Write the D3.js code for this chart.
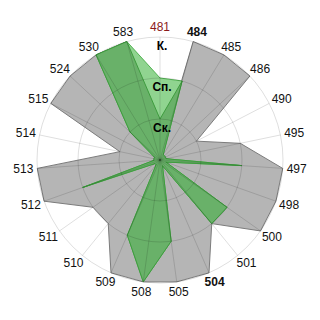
<!DOCTYPE html>
<html>
<head>
<meta charset="utf-8">
<script src="https://cdn.jsdelivr.net/npm/d3@7"></script>
<style>
  body { margin: 0; background: #fff; }
  text { font-family: "Liberation Sans", Arial, sans-serif; }
</style>
</head>
<body>
<div id="chart"></div>
<script>
// Categories clockwise from the top
const categories = ["481", "484", "485", "486", "490", "495", "497", "498", "500", "501", "504",
                    "505", "508", "509", "510", "511", "512", "513", "514", "515", "524", "530", "583"];

// Radial levels (1 = Ск., 2 = Сп., 3 = К.)
const levelValues = [1, 2, 3];
const levelLabels = ["Ск.", "Сп.", "К."];

// Series values
const grayValues  = [0.15, 3, 3, 3, 1, 2, 3, 3, 3, 2, 3, 3, 3, 3, 2, 2, 3, 3, 1, 3, 3, 3, 3];
const lightValues = [2, 2, 0.15, 0.15, 0.15, 0.15, 2, 0.15, 2, 2, 0.15, 2, 3, 2, 0.15, 0.15, 2, 0.15, 0.15, 0.15, 1, 3, 3];
const darkValues  = [1, 2, 0.15, 0.15, 0.15, 0.15, 2, 0.15, 2, 2, 0.15, 2, 3, 2, 0.15, 0.15, 2, 0.15, 0.15, 0.15, 1, 3, 3];

const boldLabels = ["484", "504"];
const redLabels = ["481"];

let width = 320, height = 320;
let cx = 160, cy = 160, R = 123;

let svg = d3.select("#chart")
    .append("svg")
    .attr("width", width)
    .attr("height", height)
    .append("g")
    .attr("transform", `translate(${cx},${cy})`);

// Scales
let angle = d3.scaleBand()
    .domain(categories)
    .range([0, 2 * Math.PI])
    .paddingInner(0)
    .paddingOuter(0);

let radius = d3.scaleLinear()
    .domain([0, 3])
    .range([0, R]);

let radar = d3.lineRadial()
    .angle((d, i) => angle(categories[i]))
    .radius(d => radius(d))
    .curve(d3.curveLinearClosed);

// Series polygons
svg.append("path")
    .datum(grayValues)
    .attr("d", radar)
    .attr("fill", "#b5b5b5")
    .attr("stroke", "#7c7c7c")
    .attr("stroke-width", 1);

svg.append("path")
    .datum(lightValues)
    .attr("d", radar)
    .attr("fill", "#90d490")
    .attr("stroke", "#52b352")
    .attr("stroke-width", 1);

svg.append("path")
    .datum(darkValues)
    .attr("d", radar)
    .attr("fill", "#69b169")
    .attr("stroke", "#3f9c3f")
    .attr("stroke-width", 1);

// Grid on top, semi transparent
svg.selectAll(".ring")
    .data(levelValues)
    .enter().append("circle")
    .attr("class", "ring")
    .attr("r", d => radius(d))
    .attr("fill", "none")
    .attr("stroke", "rgba(0,0,0,0.13)");

svg.selectAll(".spoke")
    .data(categories)
    .enter().append("line")
    .attr("class", "spoke")
    .attr("x1", 0).attr("y1", 0)
    .attr("x2", d => radius(3) * Math.sin(angle(d)))
    .attr("y2", d => -radius(3) * Math.cos(angle(d)))
    .attr("stroke", "rgba(0,0,0,0.13)");

// Category labels
svg.selectAll(".cat")
    .data(categories)
    .enter().append("text")
    .attr("class", "cat")
    .attr("font-size", "12px")
    .attr("text-anchor", "middle")
    .attr("dy", "0.35em")
    .attr("font-weight", d => boldLabels.includes(d) ? "bold" : "normal")
    .attr("fill", d => redLabels.includes(d) ? "#8b1a1a" : "#111")
    .text(d => d)
    .each(function(d) {
        let a = angle(d);
        let w = this.getComputedTextLength();
        let r = radius(3) + 4;
        d3.select(this)
            .attr("x", (r + w / 2) * Math.sin(a))
            .attr("y", -(r + 6) * Math.cos(a));
    });

// Level labels
svg.selectAll(".level")
    .data(levelValues)
    .enter().append("text")
    .attr("class", "level")
    .attr("x", 2)
    .attr("y", d => -radius(d) + 12.5)
    .attr("text-anchor", "middle")
    .attr("font-size", "12px")
    .attr("font-weight", "bold")
    .attr("fill", "#000")
    .text((d, i) => levelLabels[i]);
</script>
</body>
</html>
